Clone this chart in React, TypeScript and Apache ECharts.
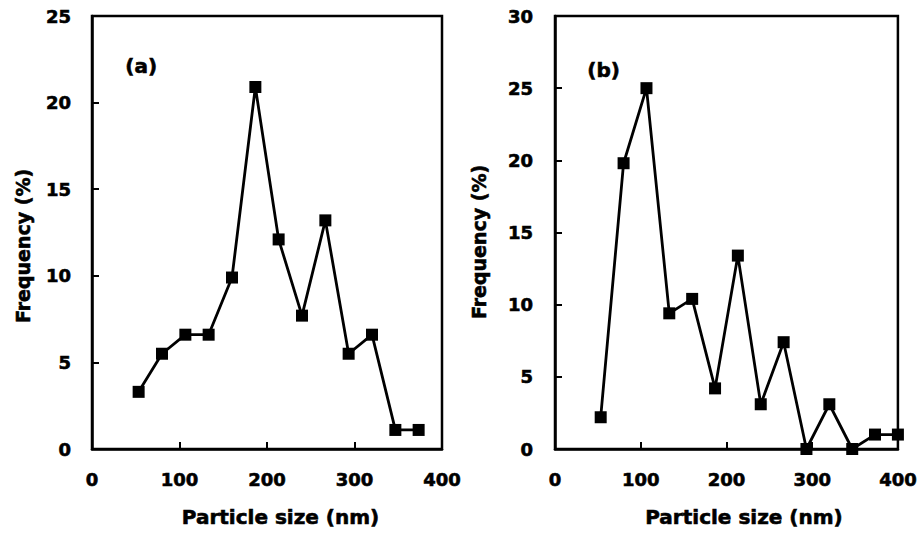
import React, { useEffect, useRef } from "react";
import * as echarts from "echarts";

const sizesA = [53.3, 80, 106.7, 133.3, 160, 186.7, 213.3, 240, 266.7, 293.3, 320, 346.7, 373.3];
const freqA = [3.3, 5.5, 6.6, 6.6, 9.9, 20.9, 12.1, 7.7, 13.2, 5.5, 6.6, 1.1, 1.1];
const sizesB = [53.3, 80, 106.7, 133.3, 160, 186.7, 213.3, 240, 266.7, 293.3, 320, 346.7, 373.3, 400];
const freqB = [2.2, 19.8, 25, 9.4, 10.4, 4.2, 13.4, 3.1, 7.4, 0, 3.1, 0, 1.0, 1.0];
const panelLabels = ["(a)", "(b)"];
const xName = "Particle size (nm)";
const yName = "Frequency (%)";

const FONT = "DejaVu Sans";

export default function App() {
  const ref = useRef<HTMLDivElement>(null);
  useEffect(() => {
    if (!ref.current) return;
    const chart = echarts.init(ref.current, null, { renderer: "svg" });
    const heavy = { textBorderColor: "#000", textBorderWidth: 0.6 };
    const axisLabel = { color: "#000", fontFamily: FONT, fontWeight: "bold", fontSize: 18, ...heavy };
    const nameStyle = { color: "#000", fontFamily: FONT, fontWeight: "bold", fontSize: 20, ...heavy };
    const mkX = (idx: number, padLeft: number) => ({
      type: "value",
      gridIndex: idx,
      min: 0,
      max: 400,
      interval: 100,
      name: xName,
      nameLocation: "middle",
      nameGap: 58,
      nameTextStyle: { ...nameStyle, padding: [0, 0, 0, padLeft] },
      axisLine: { show: true, onZero: false, lineStyle: { color: "#000", width: 2.5 } },
      axisTick: { show: true, inside: true, length: 7, lineStyle: { color: "#000", width: 2 } },
      axisLabel: { ...axisLabel, margin: 21 },
      splitLine: { show: false },
    });
    const mkY = (idx: number, max: number, gap: number, padRight: number, margin: number) => ({
      type: "value",
      gridIndex: idx,
      min: 0,
      max,
      interval: 5,
      name: yName,
      nameLocation: "middle",
      nameGap: gap,
      nameTextStyle: { ...nameStyle, fontSize: 19, padding: [0, padRight, 0, 0] },
      axisLine: { show: true, lineStyle: { color: "#000", width: 2.5 } },
      axisTick: { show: true, inside: true, length: 7, lineStyle: { color: "#000", width: 2 } },
      axisLabel: { ...axisLabel, margin: margin },
      splitLine: { show: false },
    });
    const mkSeries = (idx: number, xs: number[], ys: number[]) => ({
      type: "line",
      xAxisIndex: idx,
      yAxisIndex: idx,
      data: xs.map((x, i) => [x, ys[i]]),
      symbol: "rect",
      symbolSize: 12,
      clip: false,
      lineStyle: { color: "#000", width: 2.8 },
      itemStyle: { color: "#000", borderWidth: 0 },
    });
    chart.setOption({
      animation: false,
      backgroundColor: "#fff",
      grid: [
        { left: 92, right: 478, top: 16, bottom: 85, show: true, borderColor: "#000", borderWidth: 2.5, backgroundColor: "transparent" },
        { left: 555, right: 22, top: 16, bottom: 85, show: true, borderColor: "#000", borderWidth: 2.5, backgroundColor: "transparent" },
      ],
      xAxis: [mkX(0, 27), mkX(1, 35)],
      yAxis: [mkY(0, 25, 60, 27, 21), mkY(1, 30, 67, 19, 22)],
      series: [mkSeries(0, sizesA, freqA), mkSeries(1, sizesB, freqB)],
      graphic: [
        { type: "text", left: 125, top: 56, style: { text: panelLabels[0], fill: "#000", stroke: "#000", lineWidth: 0.6, font: `bold 20px "${FONT}"` } },
        { type: "text", left: 587, top: 60, style: { text: panelLabels[1], fill: "#000", stroke: "#000", lineWidth: 0.6, font: `bold 20px "${FONT}"` } },
      ],
    });
    return () => chart.dispose();
  }, []);
  return <div ref={ref} style={{ position: "fixed", left: 0, top: 0, width: 920, height: 534 }} />;
}
